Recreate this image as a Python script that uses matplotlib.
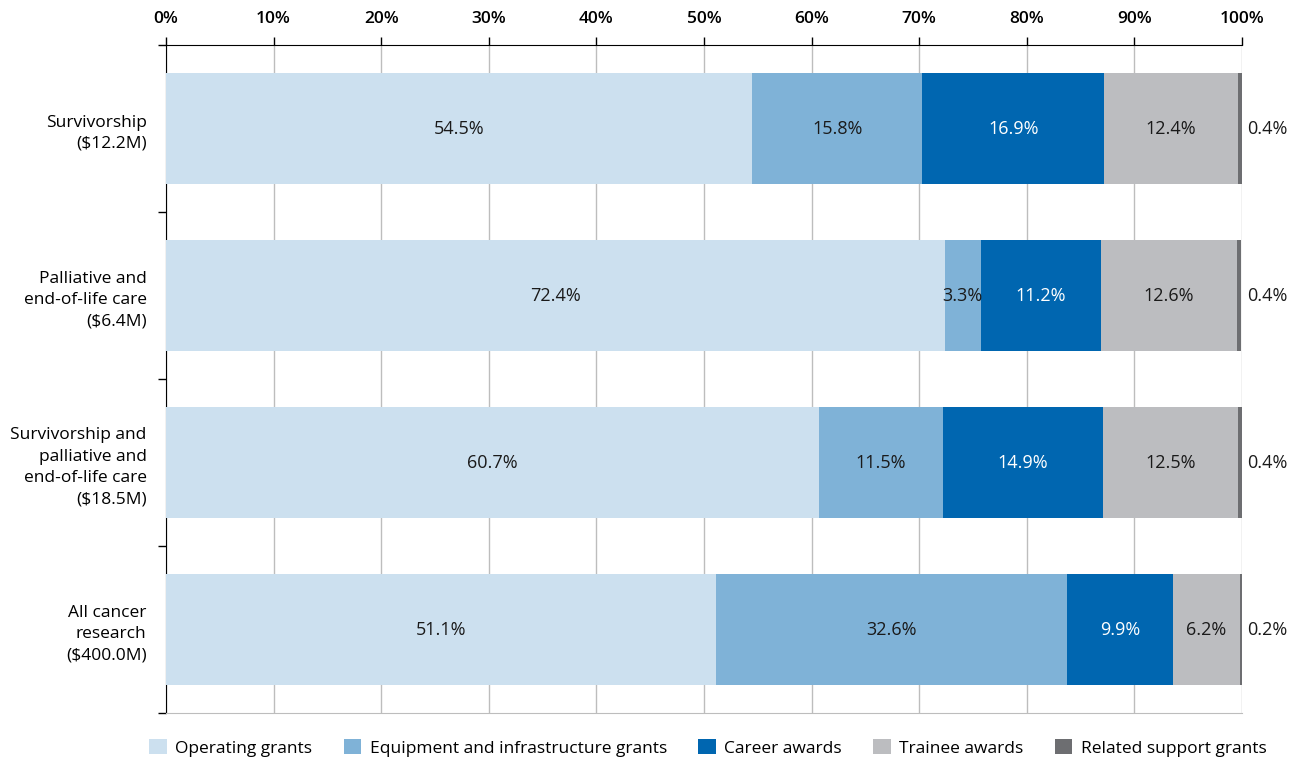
import matplotlib.pyplot as plt
import numpy as np

plt.rcParams['font.family'] = ['Open Sans', 'DejaVu Sans']

categories = ["Survivorship\n($12.2M)",
              "Palliative and\nend-of-life care\n($6.4M)",
              "Survivorship and\npalliative and\nend-of-life care\n($18.5M)",
              "All cancer\nresearch\n($400.0M)"]
series_names = ["Operating grants", "Equipment and infrastructure grants",
                "Career awards", "Trainee awards", "Related support grants"]
operating = [54.5, 72.4, 60.7, 51.1]
equipment = [15.8, 3.3, 11.5, 32.6]
career = [16.9, 11.2, 14.9, 9.9]
trainee = [12.4, 12.6, 12.5, 6.2]
related = [0.4, 0.4, 0.4, 0.2]

colors = ["#cce0ef", "#7fb2d7", "#0066b0", "#bcbdc0", "#6d6e71"]
text_colors = ["#1a1a1a", "#1a1a1a", "white", "#1a1a1a", "#1a1a1a"]
fs = 12.5

fig = plt.figure(figsize=(12.99, 7.63), dpi=100)
ax = fig.add_axes([0.1278, 0.0655, 0.8283, 0.8755])

y = np.arange(len(categories))
left = np.zeros(len(categories))
for i, (name, vals) in enumerate(zip(series_names,
                                     [operating, equipment, career, trainee, related])):
    vals = np.array(vals)
    ax.barh(y, vals, left=left, height=0.67, color=colors[i], label=name, zorder=3)
    for j in range(len(categories)):
        if i == 4:
            ax.text(100.5, y[j], f"{vals[j]:.1f}%", va="center", ha="left",
                    fontsize=13, color=text_colors[i])
        else:
            ax.text(left[j] + vals[j] / 2, y[j], f"{vals[j]:.1f}%", va="center",
                    ha="center", fontsize=13, color=text_colors[i], zorder=4)
    left += vals

ax.set_xlim(0, 100)
ax.set_ylim(3.5, -0.5)
ax.set_xticks(np.arange(0, 101, 10))
ax.set_xticklabels([f"{v}%" for v in range(0, 101, 10)], fontsize=fs, fontweight="semibold")
ax.xaxis.tick_top()
ax.tick_params(axis="x", length=6, width=1, color="black", pad=7)
ax.grid(axis="x", color="#bdbdbd", linewidth=1, zorder=0)

ax.set_yticks(y)
ax.set_yticklabels(categories, fontsize=fs, linespacing=1.45)
ax.set_yticks([-0.5, 0.5, 1.5, 2.5, 3.5], minor=True)
ax.tick_params(axis="y", which="major", length=0, pad=14)
ax.tick_params(axis="y", which="minor", length=6, width=1, color="black")

ax.spines["top"].set_color("black")
ax.spines["left"].set_color("black")
ax.spines["right"].set_visible(False)
ax.spines["bottom"].set_color("#bdbdbd")

fig.legend(loc="lower center", bbox_to_anchor=(0.545, -0.012), ncol=5, frameon=False,
           fontsize=fs, handlelength=1.0, handleheight=1.0, columnspacing=1.8,
           handletextpad=0.5)

fig.savefig("out.png", dpi=100)
